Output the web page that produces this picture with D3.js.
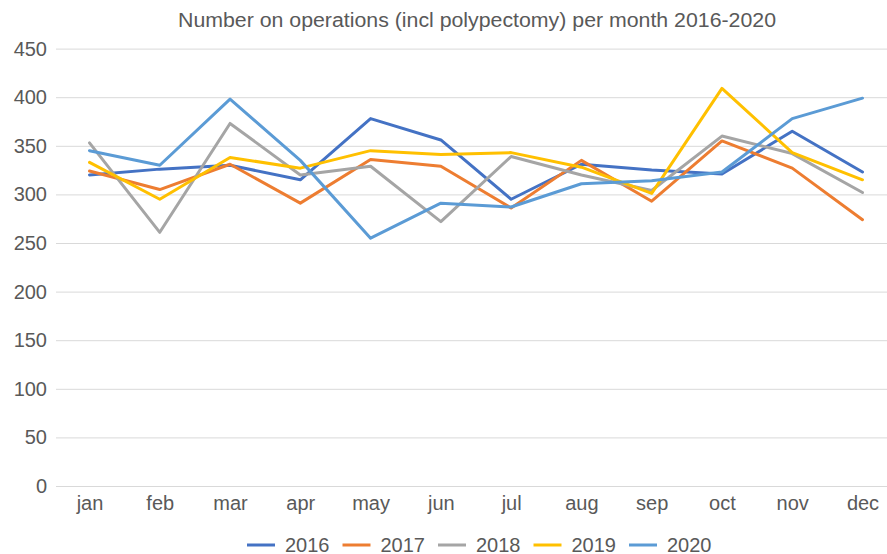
<!DOCTYPE html>
<html><head><meta charset="utf-8">
<script src="https://cdn.jsdelivr.net/npm/d3@7"></script>
<style>body{margin:0;background:#fff}svg{display:block}text{font-family:"Liberation Sans",Arial,sans-serif}</style>
</head><body>
<svg id="c" width="887" height="554"></svg>
<script>
const months = ["jan","feb","mar","apr","may","jun","jul","aug","sep","oct","nov","dec"];
const years = ["2016","2017","2018","2019","2020"];
const v2016 = [320,326,330,315,378,356,295,331,325,321,365,323];
const v2017 = [324,305,331,291,336,329,286,335,293,355,327,274];
const v2018 = [353,261,373,320,329,272,339,320,304,360,342,302];
const v2019 = [333,295,338,327,345,341,343,328,301,409,343,315];
const v2020 = [345,330,398,335,255,291,287,311,314,323,378,399];
const yTicks = [0,50,100,150,200,250,300,350,400,450];
const colors = ["#4472C4","#ED7D31","#A5A5A5","#FFC000","#5B9BD5"];
const series = [v2016,v2017,v2018,v2019,v2020];

const svg = d3.select("#c");
const x = d3.scalePoint().domain(months).range([89.5,862.5]);
const y = d3.scaleLinear().domain([0,450]).range([486,48.6]);

svg.append("text").attr("x",178).attr("y",26.5)
  .attr("font-size",19.5).attr("fill","#595959")
  .attr("textLength",598).attr("lengthAdjust","spacingAndGlyphs")
  .text("Number on operations (incl polypectomy) per month 2016-2020");

const ya = svg.append("g").attr("transform","translate(56,0)")
  .call(d3.axisLeft(y).tickValues(yTicks).tickSize(-831).tickPadding(9));
ya.select(".domain").remove();
ya.selectAll(".tick line").attr("stroke","#d9d9d9").attr("stroke-width",1);
ya.selectAll(".tick text").attr("font-size",20).attr("fill","#595959").attr("font-family","Liberation Sans, Arial, sans-serif");

const xa = svg.append("g").attr("transform","translate(0,486)")
  .call(d3.axisBottom(x).tickSize(0).tickPadding(10));
xa.select(".domain").remove();
xa.selectAll(".tick text").attr("font-size",20).attr("fill","#595959").attr("font-family","Liberation Sans, Arial, sans-serif");

const line = d3.line().x((d,i)=>x(months[i])).y(d=>y(d));
series.forEach((s,k)=>{
  svg.append("path").datum(s).attr("d",line).attr("fill","none")
    .attr("stroke",colors[k]).attr("stroke-width",3).attr("stroke-linejoin","round").attr("stroke-linecap","round");
});

const lg = svg.append("g");
years.forEach((yr,k)=>{
  const gx = 247 + k*95.5;
  lg.append("line").attr("x1",gx).attr("x2",gx+28).attr("y1",545).attr("y2",545)
    .attr("stroke",colors[k]).attr("stroke-width",3);
  lg.append("text").attr("x",gx+38).attr("y",551.5).attr("font-size",20).attr("fill","#595959").text(yr);
});
</script>
</body></html>
